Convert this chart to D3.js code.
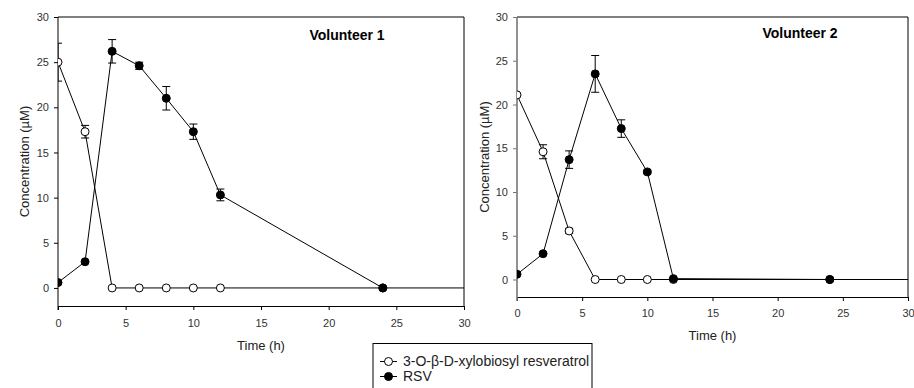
<!DOCTYPE html>
<html>
<head>
<meta charset="utf-8">
<script src="https://cdn.jsdelivr.net/npm/d3@7"></script>
<style>
  body { margin: 0; background: #fff; }
  svg { display: block; font-family: Arial, 'Liberation Sans', sans-serif; }
</style>
</head>
<body>
<div id="chart"></div>
<script>
// Volunteer 1
const v1Time = [0, 2, 4, 6, 8, 10, 12, 24];
const v1Xylo = [25.0, 17.3, 0, 0, 0, 0, 0, 0];
const v1XyloErr = [2.1, 0.7, 0, 0, 0, 0, 0, 0];
const v1RsvTime = [0, 2, 4, 6, 8, 10, 12, 24, 48];
const v1Rsv = [0.6, 2.9, 26.2, 24.6, 21.0, 17.3, 10.3, 0, 0];
const v1RsvErr = [0, 0, 1.3, 0.4, 1.3, 0.85, 0.65, 0, 0];

// Volunteer 2
const v2Time = [0, 2, 4, 6, 8, 10, 12, 24];
const v2Xylo = [21.1, 14.6, 5.55, 0, 0, 0, 0, 0];
const v2XyloErr = [0, 0.8, 0.3, 0, 0, 0, 0, 0];
const v2RsvTime = [0, 2, 4, 6, 8, 10, 12, 24, 48];
const v2Rsv = [0.6, 2.95, 13.7, 23.5, 17.25, 12.3, 0.1, 0, 0];
const v2RsvErr = [0, 0, 1.0, 2.1, 1.0, 0.2, 0, 0, 0];

const xTicks = [0, 5, 10, 15, 20, 25, 30];
const yTicks = [0, 5, 10, 15, 20, 25, 30];
const legendLabels = ['3-O-\u03B2-D-xylobiosyl resveratrol', 'RSV'];

const FONT = "Arial, 'Liberation Sans', sans-serif";
const W = 914, H = 388;
const svg = d3.select('#chart').append('svg').attr('width', W).attr('height', H);

const panels = [
  { title: 'Volunteer 1', x0: 58, x1: 464, y0: 306, y1: 17, axisColor: '#000', titleX: 347, titleY: 40, xLabelY: 350, yLabelX: 24,
    xylo: { t: v1Time, v: v1Xylo, e: v1XyloErr }, rsv: { t: v1RsvTime, v: v1Rsv, e: v1RsvErr } },
  { title: 'Volunteer 2', x0: 517, x1: 908, y0: 297, y1: 17, axisColor: '#777', titleX: 800, titleY: 38, xLabelY: 340, yLabelX: 484,
    xylo: { t: v2Time, v: v2Xylo, e: v2XyloErr }, rsv: { t: v2RsvTime, v: v2Rsv, e: v2RsvErr } }
];

panels.forEach((p, i) => {
  const x = d3.scaleLinear().domain([0, 30]).range([p.x0, p.x1]);
  const y = d3.scaleLinear().domain([-2, 30]).range([p.y0, p.y1]);
  const g = svg.append('g');

  const clipId = 'clip' + i;
  svg.append('clipPath').attr('id', clipId)
    .append('rect')
    .attr('x', p.x0).attr('y', p.y1 - 6)
    .attr('width', p.x1 - p.x0).attr('height', p.y0 - p.y1 + 6);

  // frame (top and right)
  g.append('path')
    .attr('d', `M${p.x0},${p.y1}H${p.x1}V${p.y0}`)
    .attr('fill', 'none').attr('stroke', '#000').attr('stroke-width', 1);

  const xAxis = g.append('g')
    .attr('transform', `translate(0,${p.y0})`)
    .call(d3.axisBottom(x).tickValues(xTicks).tickSize(4).tickPadding(i === 0 ? 9 : 8));
  xAxis.attr('font-family', FONT);
  xAxis.select('.domain').attr('stroke', '#000');
  xAxis.selectAll('text').style('font-size', '11px').attr('fill', '#333');

  const yAxis = g.append('g')
    .attr('transform', `translate(${p.x0},0)`)
    .call(d3.axisLeft(y).tickValues(yTicks).tickSize(4).tickPadding(5));
  yAxis.attr('font-family', FONT);
  yAxis.select('.domain').attr('stroke', p.axisColor).attr('stroke-width', i === 0 ? 1 : 1.6)
    .attr('d', `M0,${p.y1}V${p.y0 + 4}`);
  yAxis.selectAll('.tick line').attr('stroke', p.axisColor);
  yAxis.selectAll('text').style('font-size', '11px').attr('fill', '#333');

  g.append('text')
    .attr('x', (p.x0 + p.x1) / 2).attr('y', p.xLabelY)
    .attr('text-anchor', 'middle').style('font-size', '13px').attr('fill', '#222')
    .text('Time (h)');

  g.append('text')
    .attr('transform', `translate(${p.yLabelX},${(p.y0 + p.y1) / 2}) rotate(-90)`)
    .attr('text-anchor', 'middle').attr('dy', '0.35em').style('font-size', '13px').attr('fill', '#222')
    .text('Concentration (\u00B5M)');

  g.append('text')
    .attr('x', p.titleX).attr('y', p.titleY)
    .attr('text-anchor', 'middle').style('font-size', '14px').style('font-weight', 'bold')
    .text(p.title);

  const plot = g.append('g').attr('clip-path', `url(#${clipId})`);
  const line = d3.line().x(d => x(d.t)).y(d => y(d.v));

  [['xylo', '#fff'], ['rsv', '#000']].forEach(([key, fill]) => {
    const s = p[key];
    const pts = s.t.map((t, j) => ({ t, v: s.v[j], e: s.e[j] }));
    plot.append('path').datum(pts)
      .attr('d', line).attr('fill', 'none').attr('stroke', '#000').attr('stroke-width', 1);

    const err = plot.selectAll(null).data(pts.filter(d => d.e > 0)).enter().append('g');
    err.append('line')
      .attr('x1', d => x(d.t)).attr('x2', d => x(d.t))
      .attr('y1', d => y(d.v - d.e)).attr('y2', d => y(d.v + d.e))
      .attr('stroke', '#000');
    [-1, 1].forEach(sgn => {
      err.append('line')
        .attr('x1', d => x(d.t) - 4).attr('x2', d => x(d.t) + 4)
        .attr('y1', d => y(d.v + sgn * d.e)).attr('y2', d => y(d.v + sgn * d.e))
        .attr('stroke', '#000');
    });

    plot.selectAll(null).data(pts).enter().append('circle')
      .attr('cx', d => x(d.t)).attr('cy', d => y(d.v)).attr('r', 4)
      .attr('fill', fill).attr('stroke', '#000').attr('stroke-width', 1);
  });
});

// legend
const lg = svg.append('g');
lg.append('rect').attr('x', 373).attr('y', 343.5).attr('width', 219).attr('height', 60)
  .attr('fill', '#fff').attr('stroke', '#000');
legendLabels.forEach((lab, j) => {
  const cy = 361.5 + j * 15;
  lg.append('line').attr('x1', 380).attr('x2', 397).attr('y1', cy).attr('y2', cy).attr('stroke', '#000');
  lg.append('circle').attr('cx', 388.5).attr('cy', cy).attr('r', 4)
    .attr('fill', j === 0 ? '#fff' : '#000').attr('stroke', '#000');
  lg.append('text').attr('x', 403).attr('y', cy).attr('dy', '0.35em')
    .style('font-size', '14px').attr('fill', '#222').text(lab);
});
</script>
</body>
</html>
